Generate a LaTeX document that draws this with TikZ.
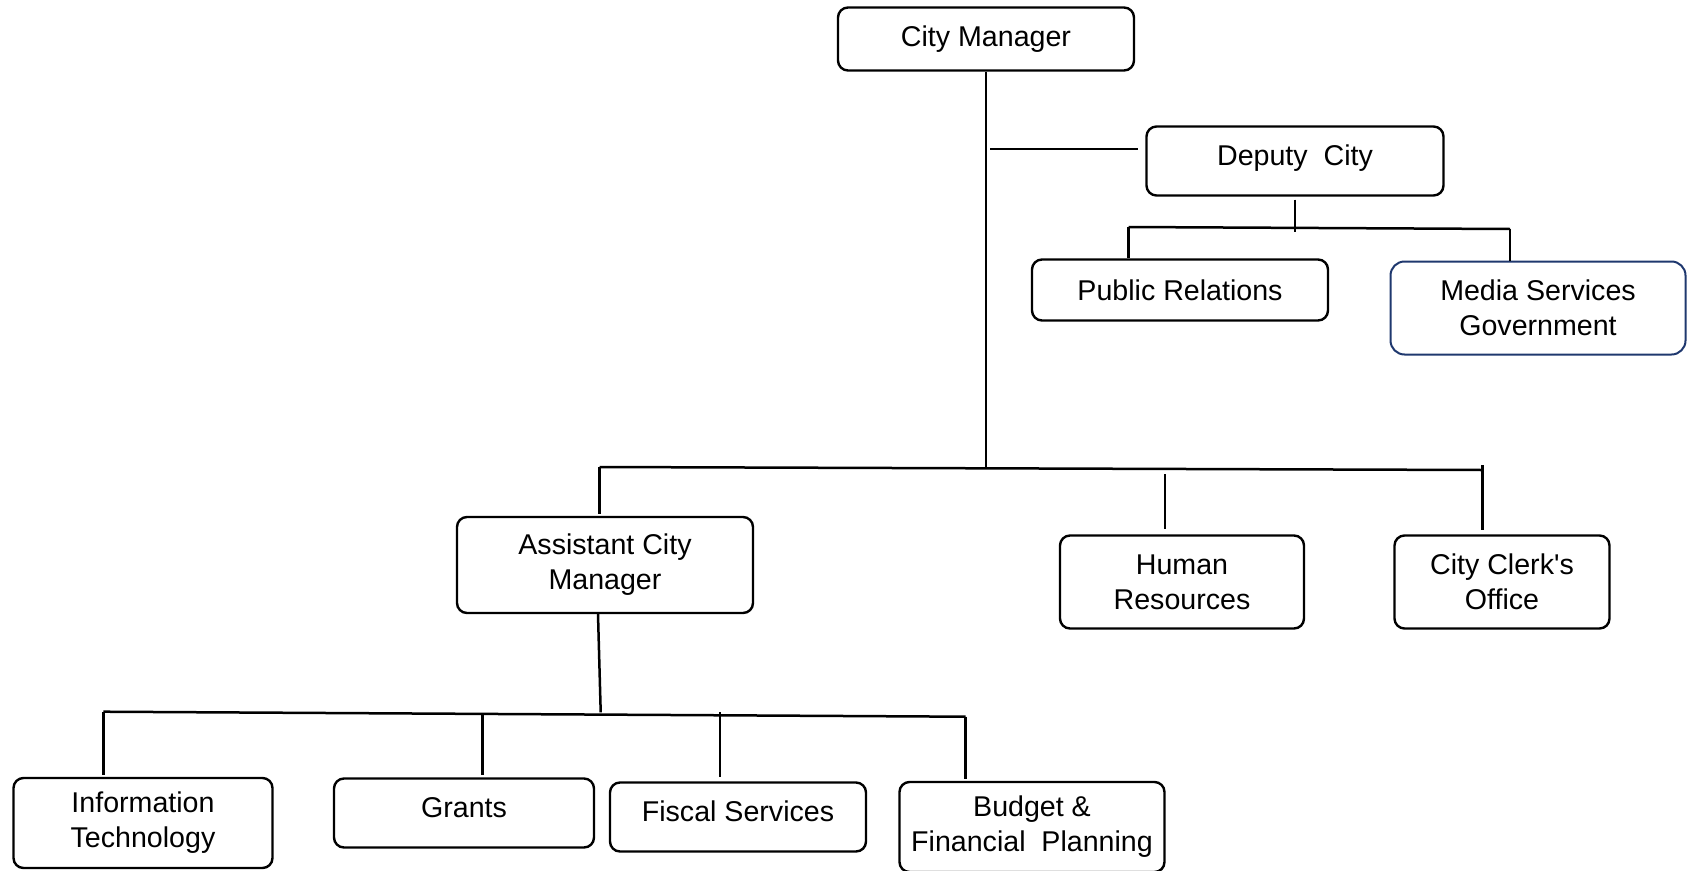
\documentclass[tikz,border=0pt]{standalone}
\usepackage{fontspec}
\setmainfont{Liberation Sans}
\usepackage{tikz}
\usetikzlibrary{positioning}
\definecolor{navy}{RGB}{31,56,110}

\begin{document}
\begin{tikzpicture}[x=1pt,y=-1pt]
                    \tikzstyle{every node}+=[inner sep=0pt]
                    \tikzstyle{unit}=[draw=black, line width=2.4pt, rounded corners=10pt, align=center,
                                      font=\fontsize{28.6}{35}\selectfont]
                    \tikzstyle{link}=[black, line width=2.5pt]
                    \useasboundingbox (0,0) rectangle (1688,870);
                    \clip (0,0) rectangle (1688,870);
                    % boxes
                    \node [unit, minimum width=296pt, minimum height=63pt] (cm) at (986,39) {City Manager};
                    \node [unit, minimum width=297pt, minimum height=69pt, text depth=12pt] (dep) at (1295,161) {Deputy~ City};
                    \node [unit, minimum width=296pt, minimum height=61pt] (pr) at (1180,290) {Public Relations};
                    \node [unit, draw=navy, line width=2pt, rounded corners=14pt, minimum width=295pt, minimum height=93pt] (media) at (1538,308) {Media Services\\Government};
                    \node [unit, minimum width=296pt, minimum height=96pt] (acm) at (605,565) {Assistant City\\Manager};
                    \node [unit, minimum width=244pt, minimum height=93pt] (hr) at (1182,582) {Human\\Resources};
                    \node [unit, minimum width=215pt, minimum height=93pt] (clerk) at (1502,582) {City Clerk\textquotesingle s\\Office};
                    \node [unit, minimum width=259pt, minimum height=90pt] (it) at (143,823) {Information\\Technology};
                    \node [unit, minimum width=260pt, minimum height=69pt, text depth=10pt] (grants) at (464,813) {Grants};
                    \node [unit, minimum width=256pt, minimum height=69pt, text depth=12pt] (fiscal) at (738,817) {Fiscal Services};
                    \node [unit, minimum width=265pt, minimum height=90pt] (budget) at (1032,827) {Budget \&\\Financial~ Planning};
                    % joints
                    \coordinate (mj) at (986,468);
                    \coordinate (dj) at (990,149);
                    \coordinate (dbl) at (1128.5,227);
                    \coordinate (dbr) at (1510,229);
                    \coordinate (ml) at (599.6,467);
                    \coordinate (mr) at (1482.4,470);
                    \coordinate (hj) at (1164.8,474);
                    \coordinate (cj) at (1482.4,465);
                    \coordinate (lj) at (600.7,712.3);
                    \coordinate (ll) at (103.3,711.7);
                    \coordinate (lr) at (965.6,716.7);
                    \coordinate (gj) at (482.3,713.5);
                    \coordinate (fj) at (720.2,712.3);
                    % top part
                    \draw [link] (cm.south) -- (mj);
                    \draw [link] (dj) -- ([xshift=-7pt]dj -| dep.west);
                    \draw [link] ([yshift=-3pt]dep.south) -- ([yshift=-3pt]dep.south |- dbr);
                    \draw [link] (dbl) -- (dbr);
                    \draw [link] (dbl) -- (dbl |- pr.north);
                    \draw [link] (dbr) -- (dbr |- media.north);
                    % middle part
                    \draw [link] (ml) -- (mr);
                    \draw [link] (ml) -- ([yshift=2pt]ml |- acm.north);
                    \draw [link] (hj) -- ([yshift=5pt]hj |- hr.north);
                    \draw [link] (cj) -- ([yshift=4pt]cj |- clerk.north);
                    % lower part
                    \draw [link] ([xshift=-7pt]acm.south) -- (lj);
                    \draw [link] (ll) -- (lr);
                    \draw [link] (ll) -- ([yshift=2pt]ll |- it.north);
                    \draw [link] (gj) -- ([yshift=2pt]gj |- grants.north);
                    \draw [link] (fj) -- ([yshift=4pt]fj |- fiscal.north);
                    \draw [link] (lr) -- ([yshift=2pt]lr |- budget.north);
\end{tikzpicture}
\end{document}
